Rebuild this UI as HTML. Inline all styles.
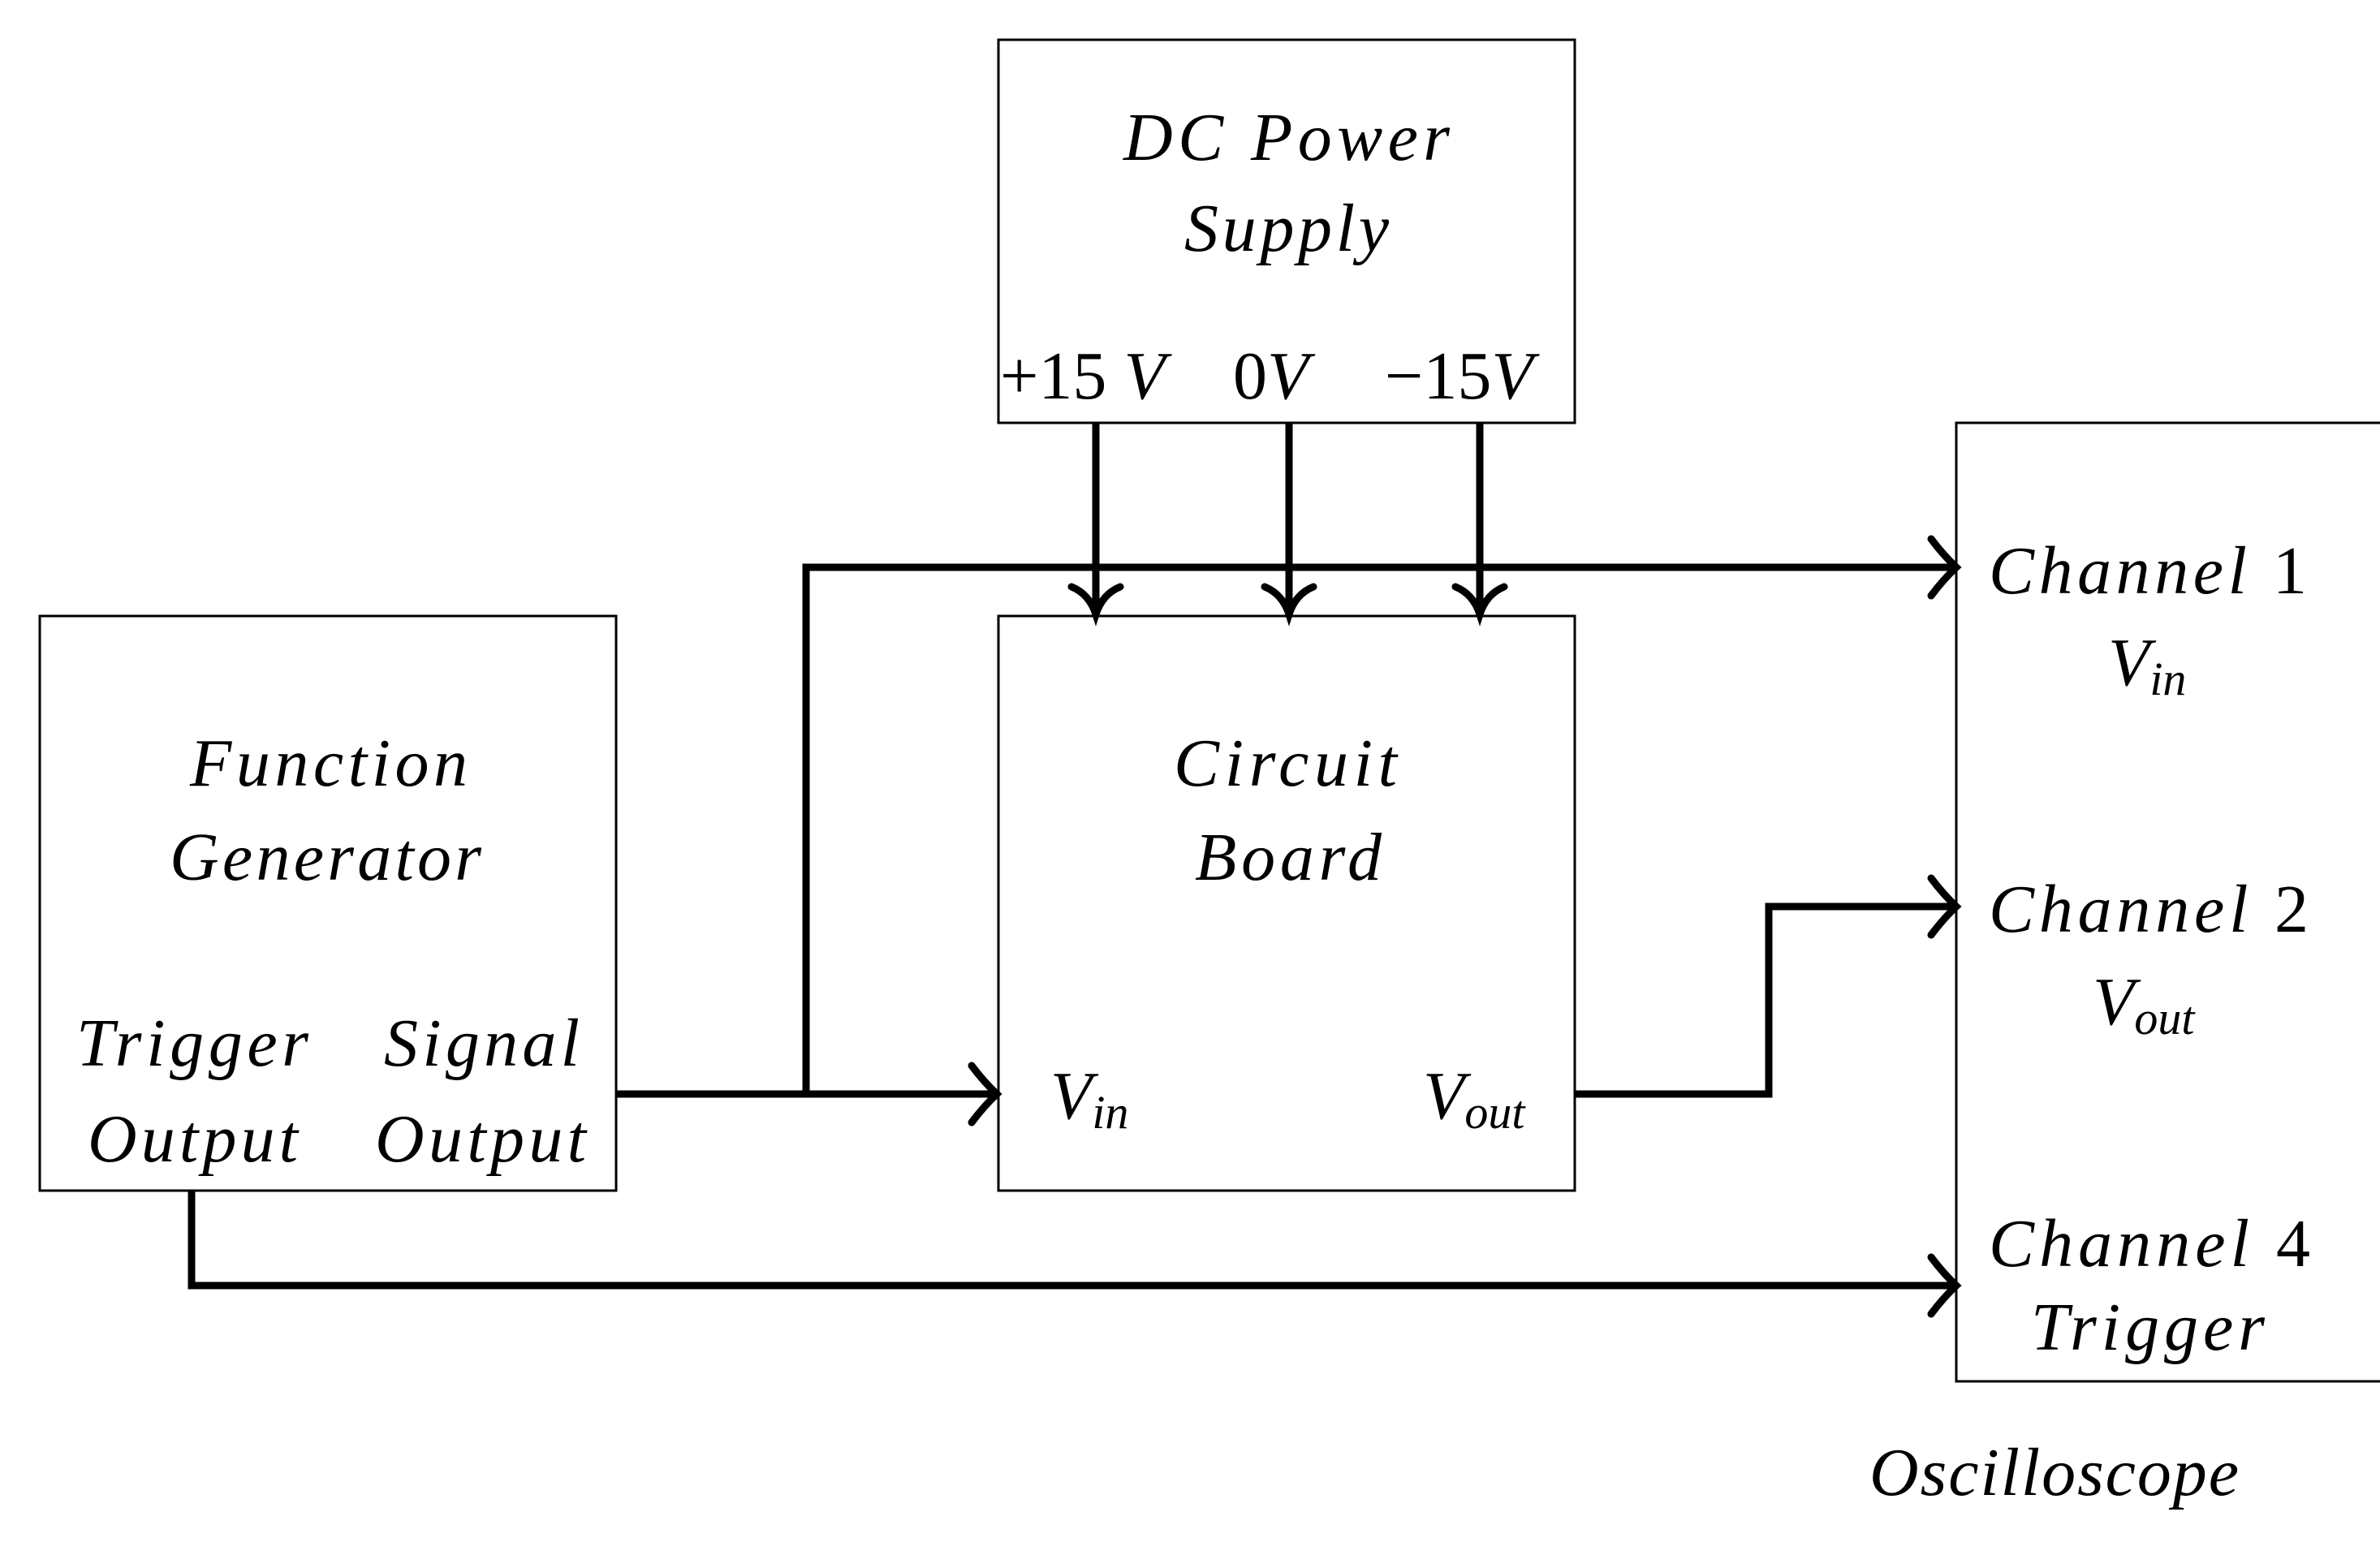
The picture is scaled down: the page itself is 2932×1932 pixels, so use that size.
<!DOCTYPE html>
<html><head><meta charset="utf-8"><style>
html,body{margin:0;padding:0;background:#fff;}
svg{display:block;}
text{font-family:"Liberation Serif",serif;font-style:italic;font-size:84px;fill:#000;}
.r{font-style:normal;}
</style></head><body>
<svg width="2932" height="1932" viewBox="0 0 2932 1932" xmlns="http://www.w3.org/2000/svg">
<g fill="none" stroke="#000" stroke-width="3">
<rect x="1230" y="49" width="710" height="472"/>
<rect x="49" y="759" width="710" height="708"/>
<rect x="1230" y="759" width="710" height="708"/>
<rect x="2410" y="521" width="540" height="1181"/>
</g>
<g fill="none" stroke="#000" stroke-width="9" stroke-linecap="butt" stroke-linejoin="miter">
<path d="M1350 521 V757"/>
<path d="M1588 521 V757"/>
<path d="M1823 521 V757"/>
<path d="M759 1348 H1228"/>
<path d="M993 1348 V699 H2408"/>
<path d="M1940 1348 H2179 V1117 H2408"/>
<path d="M236 1467 V1584 H2408"/>
</g>
<g fill="none" stroke="#000" stroke-width="9" stroke-linecap="round">
<path d="M1320 723 Q1342 732 1350 757 Q1358 732 1380 723"/>
<path d="M1558 723 Q1580 732 1588 757 Q1596 732 1618 723"/>
<path d="M1793 723 Q1815 732 1823 757 Q1831 732 1853 723"/>
<path d="M1197 1313 Q1212 1333 1228 1348 Q1212 1363 1197 1383"/>
<path d="M2379 664 Q2394 684 2410 699 Q2394 714 2379 734"/>
<path d="M2379 1082 Q2394 1102 2410 1117 Q2394 1132 2379 1152"/>
<path d="M2379 1549 Q2394 1569 2410 1584 Q2394 1599 2379 1619"/>
</g>
<text x="1384" y="197" textLength="402" lengthAdjust="spacing">DC Power</text>
<text x="1459" y="309" textLength="252" lengthAdjust="spacing">Supply</text>
<text x="1232" y="491" class="r">+15 <tspan font-style="italic">V</tspan></text>
<text x="1519" y="491" class="r">0<tspan font-style="italic">V</tspan></text>
<text x="1706" y="491" class="r">−15<tspan font-style="italic">V</tspan></text>
<text x="234" y="968" textLength="342" lengthAdjust="spacing">Function</text>
<text x="209" y="1084" textLength="384" lengthAdjust="spacing">Generator</text>
<text x="94" y="1313" textLength="286" lengthAdjust="spacing">Trigger</text>
<text x="473" y="1313" textLength="241" lengthAdjust="spacing">Signal</text>
<text x="108" y="1431" textLength="259" lengthAdjust="spacing">Output</text>
<text x="462" y="1431" textLength="260" lengthAdjust="spacing">Output</text>
<text x="1446" y="968" textLength="275" lengthAdjust="spacing">Circuit</text>
<text x="1472" y="1084" textLength="230" lengthAdjust="spacing">Board</text>
<text x="1294" y="1378">V<tspan font-size="58" dy="12">in</tspan></text>
<text x="1753" y="1378">V<tspan font-size="58" dy="12">out</tspan></text>
<text x="2450" y="731" textLength="392" lengthAdjust="spacing">Channel <tspan font-style="normal">1</tspan></text>
<text x="2597" y="844">V<tspan font-size="58" dy="12">in</tspan></text>
<text x="2450" y="1148" textLength="394" lengthAdjust="spacing">Channel <tspan font-style="normal">2</tspan></text>
<text x="2578" y="1262">V<tspan font-size="58" dy="12">out</tspan></text>
<text x="2450" y="1560" textLength="396" lengthAdjust="spacing">Channel <tspan font-style="normal">4</tspan></text>
<text x="2502" y="1663" textLength="288" lengthAdjust="spacing">Trigger</text>
<text x="2303" y="1842" textLength="455" lengthAdjust="spacing">Oscilloscope</text>
</svg>
</body></html>
